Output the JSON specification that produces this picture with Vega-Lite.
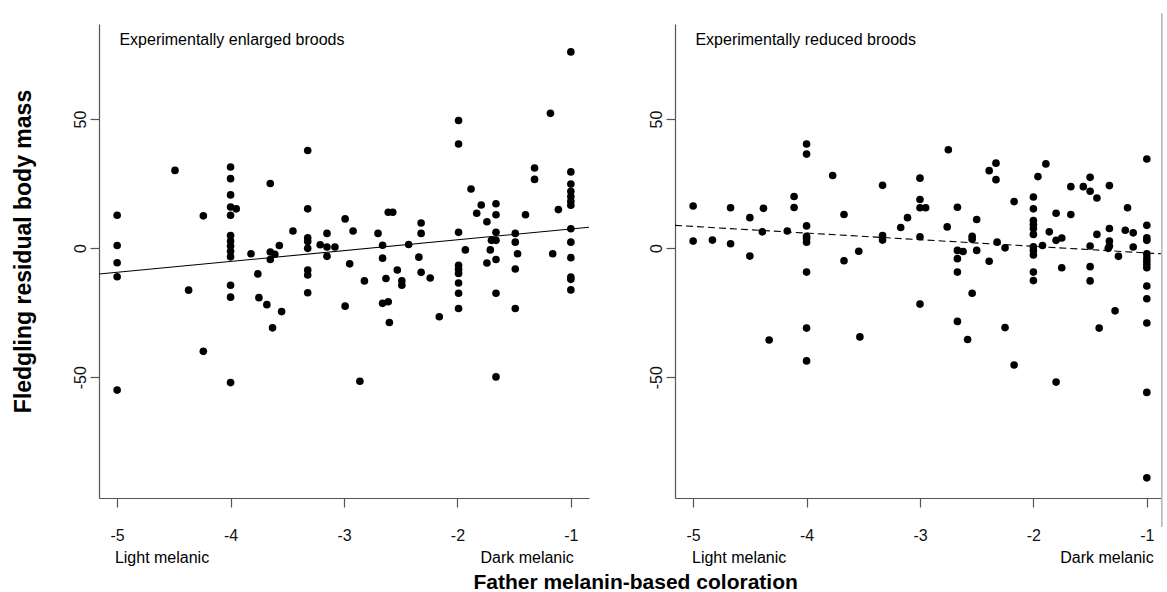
{
  "$schema": "https://vega.github.io/schema/vega-lite/v6.json",
  "background": "white",
  "padding": {"left": 11, "top": 12, "right": 2, "bottom": 2},
  "bounds": "flush",
  "spacing": 86,
  "config": {
    "font": "Liberation Sans",
    "view": {"stroke": null},
    "axis": {
      "grid": false,
      "domainColor": "#555555",
      "tickColor": "#555555",
      "domainWidth": 1.2,
      "tickWidth": 1.2,
      "tickSize": 9,
      "labelFont": "Liberation Sans",
      "labelFontSize": 16,
      "labelColor": "#111111",
      "labelExpr": "datum.value + ''"
    }
  },
  "title": {
    "text": "Father melanin-based coloration",
    "orient": "bottom",
    "anchor": "middle",
    "font": "Liberation Sans",
    "fontSize": 21,
    "fontWeight": "bold",
    "color": "#000000",
    "offset": 6,
    "dx": 48
  },
  "datasets": {
    "enlarged": [
      {"x": -5, "y": 12.7}, {"x": -5, "y": 1.0}, {"x": -5, "y": -5.7}, {"x": -5, "y": -11.1}, {"x": -5, "y": -55.0},
      {"x": -4.49, "y": 30.1}, {"x": -4.24, "y": 12.5}, {"x": -4.37, "y": -16.3}, {"x": -4.24, "y": -40.0},
      {"x": -4, "y": 31.4}, {"x": -4, "y": 26.9}, {"x": -4, "y": 20.6}, {"x": -4, "y": 15.9}, {"x": -3.95, "y": 15.2},
      {"x": -4, "y": 12.7}, {"x": -4, "y": 4.9}, {"x": -4, "y": 2.7}, {"x": -4, "y": 0.8}, {"x": -4, "y": -1.2},
      {"x": -4, "y": -3.4}, {"x": -4, "y": -14.4}, {"x": -4, "y": -19.0}, {"x": -4, "y": -52.1},
      {"x": -3.82, "y": -2.2}, {"x": -3.76, "y": -10.0}, {"x": -3.75, "y": -19.2}, {"x": -3.68, "y": -21.9},
      {"x": -3.65, "y": 25.0}, {"x": -3.65, "y": -1.5}, {"x": -3.61, "y": -2.4}, {"x": -3.65, "y": -4.4},
      {"x": -3.63, "y": -30.9}, {"x": -3.55, "y": -24.6}, {"x": -3.57, "y": 1.0}, {"x": -3.45, "y": 6.6},
      {"x": -3.32, "y": 37.8}, {"x": -3.32, "y": 15.2}, {"x": -3.32, "y": 4.0}, {"x": -3.32, "y": 2.6},
      {"x": -3.32, "y": -0.1}, {"x": -3.32, "y": -8.5}, {"x": -3.32, "y": -10.4}, {"x": -3.32, "y": -17.3},
      {"x": -3.21, "y": 1.3}, {"x": -3.15, "y": 5.7}, {"x": -3.15, "y": 0.4}, {"x": -3.08, "y": 0.4}, {"x": -3.15, "y": -3.2},
      {"x": -2.99, "y": 11.3}, {"x": -2.92, "y": 6.6}, {"x": -2.99, "y": -22.5}, {"x": -2.95, "y": -6.1},
      {"x": -2.82, "y": -12.7}, {"x": -2.86, "y": -51.6}, {"x": -2.70, "y": 5.7}, {"x": -2.66, "y": 1.1},
      {"x": -2.66, "y": -3.9}, {"x": -2.63, "y": -11.8}, {"x": -2.66, "y": -21.4}, {"x": -2.61, "y": -20.8},
      {"x": -2.60, "y": -28.8}, {"x": -2.61, "y": 13.9}, {"x": -2.57, "y": 13.9}, {"x": -2.53, "y": -8.5},
      {"x": -2.49, "y": -12.7}, {"x": -2.49, "y": -14.4}, {"x": -2.43, "y": 1.4}, {"x": -2.32, "y": 9.7},
      {"x": -2.32, "y": 5.7}, {"x": -2.34, "y": -3.5}, {"x": -2.32, "y": -9.4}, {"x": -2.24, "y": -11.6},
      {"x": -2.16, "y": -26.6},
      {"x": -1.99, "y": 49.4}, {"x": -1.99, "y": 40.3}, {"x": -1.99, "y": 6.1}, {"x": -1.99, "y": -6.7},
      {"x": -1.99, "y": -8.2}, {"x": -1.99, "y": -9.8}, {"x": -1.99, "y": -13.5}, {"x": -1.99, "y": -17.5},
      {"x": -1.99, "y": -23.4}, {"x": -1.93, "y": -0.7}, {"x": -1.88, "y": 22.9}, {"x": -1.83, "y": 13.5},
      {"x": -1.79, "y": 16.7}, {"x": -1.74, "y": 10.2}, {"x": -1.74, "y": -5.8}, {"x": -1.70, "y": 3.0},
      {"x": -1.66, "y": 3.0}, {"x": -1.71, "y": -0.7}, {"x": -1.66, "y": 17.2}, {"x": -1.66, "y": 12.9},
      {"x": -1.66, "y": 6.1}, {"x": -1.66, "y": -4.4}, {"x": -1.66, "y": -17.5}, {"x": -1.66, "y": -49.9},
      {"x": -1.49, "y": 5.7}, {"x": -1.49, "y": 2.3}, {"x": -1.47, "y": -2.2}, {"x": -1.49, "y": -8.1},
      {"x": -1.49, "y": -23.4}, {"x": -1.40, "y": 12.9}, {"x": -1.32, "y": 31.0}, {"x": -1.32, "y": 26.6},
      {"x": -1.18, "y": 52.2}, {"x": -1.11, "y": 14.9}, {"x": -1.16, "y": -2.2},
      {"x": -1, "y": 76.0}, {"x": -1, "y": 29.5}, {"x": -1, "y": 24.8}, {"x": -1, "y": 22.0}, {"x": -1, "y": 20.0},
      {"x": -1, "y": 18.1}, {"x": -1, "y": 16.6}, {"x": -1, "y": 7.5}, {"x": -1, "y": 2.3}, {"x": -1, "y": -3.7},
      {"x": -1, "y": -11.2}, {"x": -1, "y": -12.1}, {"x": -1, "y": -16.2}
    ],
    "reduced": [
      {"x": -5, "y": 16.3}, {"x": -5, "y": 2.7}, {"x": -4.83, "y": 3.1}, {"x": -4.67, "y": 15.6}, {"x": -4.67, "y": 1.7},
      {"x": -4.50, "y": 11.8}, {"x": -4.50, "y": -3.1}, {"x": -4.38, "y": 15.4}, {"x": -4.39, "y": 6.3},
      {"x": -4.33, "y": -35.6}, {"x": -4.17, "y": 6.6}, {"x": -4.11, "y": 20.0}, {"x": -4.11, "y": 15.7},
      {"x": -4, "y": 40.3}, {"x": -4, "y": 36.4}, {"x": -4, "y": 8.6}, {"x": -4, "y": 4.6}, {"x": -4, "y": 3.7},
      {"x": -4, "y": 2.3}, {"x": -4, "y": -9.3}, {"x": -4, "y": -31.0}, {"x": -4, "y": -43.7},
      {"x": -3.77, "y": 28.1}, {"x": -3.67, "y": 13.0}, {"x": -3.67, "y": -4.9}, {"x": -3.54, "y": -1.2},
      {"x": -3.53, "y": -34.4}, {"x": -3.33, "y": 24.3}, {"x": -3.33, "y": 4.9}, {"x": -3.33, "y": 3.1},
      {"x": -3.17, "y": 8.0}, {"x": -3.11, "y": 11.8}, {"x": -3.0, "y": 27.1}, {"x": -3.0, "y": 18.8},
      {"x": -3.0, "y": 15.6}, {"x": -2.95, "y": 15.6}, {"x": -3.0, "y": 4.4}, {"x": -3.0, "y": -21.7},
      {"x": -2.75, "y": 38.1}, {"x": -2.76, "y": 8.2}, {"x": -2.67, "y": 15.8}, {"x": -2.67, "y": -0.9},
      {"x": -2.62, "y": -1.3}, {"x": -2.67, "y": -4.1}, {"x": -2.67, "y": -9.3}, {"x": -2.67, "y": -28.4},
      {"x": -2.58, "y": -35.4}, {"x": -2.50, "y": 11.1}, {"x": -2.54, "y": 4.6}, {"x": -2.54, "y": 3.4},
      {"x": -2.50, "y": -0.9}, {"x": -2.54, "y": -17.5}, {"x": -2.39, "y": 30.0}, {"x": -2.33, "y": 32.9},
      {"x": -2.33, "y": 26.5}, {"x": -2.39, "y": -5.1}, {"x": -2.32, "y": 2.3}, {"x": -2.25, "y": 0.1},
      {"x": -2.25, "y": -30.8}, {"x": -2.17, "y": 18.0}, {"x": -2.17, "y": -45.3},
      {"x": -2.0, "y": 19.8}, {"x": -2.0, "y": 15.2}, {"x": -2.0, "y": 10.7}, {"x": -2.0, "y": 9.1},
      {"x": -2.0, "y": 7.6}, {"x": -2.0, "y": 5.3}, {"x": -2.0, "y": 0.5}, {"x": -2.0, "y": -0.9},
      {"x": -2.0, "y": -2.7}, {"x": -2.0, "y": -9.3}, {"x": -2.0, "y": -12.6},
      {"x": -1.96, "y": 27.7}, {"x": -1.89, "y": 32.6}, {"x": -1.92, "y": 1.0}, {"x": -1.86, "y": 6.3},
      {"x": -1.80, "y": 13.5}, {"x": -1.80, "y": 3.0}, {"x": -1.75, "y": 3.9}, {"x": -1.75, "y": -7.6},
      {"x": -1.80, "y": -51.9}, {"x": -1.67, "y": 23.8}, {"x": -1.67, "y": 13.0}, {"x": -1.56, "y": 23.8},
      {"x": -1.50, "y": 27.4}, {"x": -1.50, "y": 22.0}, {"x": -1.44, "y": 19.4}, {"x": -1.44, "y": 5.3},
      {"x": -1.50, "y": 0.8}, {"x": -1.50, "y": -7.2}, {"x": -1.50, "y": -12.7}, {"x": -1.42, "y": -31.0},
      {"x": -1.33, "y": 24.2}, {"x": -1.33, "y": 7.6}, {"x": -1.33, "y": 2.7}, {"x": -1.33, "y": 0.8},
      {"x": -1.34, "y": -0.1}, {"x": -1.25, "y": -3.2}, {"x": -1.28, "y": -24.3}, {"x": -1.17, "y": 15.6},
      {"x": -1.19, "y": 6.9}, {"x": -1.12, "y": 5.9}, {"x": -1.12, "y": 0.4},
      {"x": -1, "y": 34.5}, {"x": -1, "y": 8.8}, {"x": -1, "y": 4.0}, {"x": -1, "y": 3.0}, {"x": -1, "y": -2.2},
      {"x": -1, "y": -3.7}, {"x": -1, "y": -5.0}, {"x": -1, "y": -6.3}, {"x": -1, "y": -7.6}, {"x": -1, "y": -14.7},
      {"x": -1, "y": -19.6}, {"x": -1, "y": -29.0}, {"x": -1, "y": -55.9}, {"x": -1, "y": -89.0}
    ],
    "fitEnlarged": [{"x": -5.16, "y": -10.05}, {"x": -0.84, "y": 8.08}],
    "fitReduced": [{"x": -5.16, "y": 8.8}, {"x": -0.875, "y": -2.2}]
  },
  "hconcat": [
    {
      "width": 490,
      "height": 474,
      "layer": [
        {
          "data": {"name": "enlarged"},
          "mark": {"type": "circle", "size": 58, "color": "#000000", "opacity": 1},
          "encoding": {
            "x": {
              "field": "x", "type": "quantitative",
              "scale": {"domain": [-5.16, -0.84], "nice": false, "zero": false},
              "axis": {"values": [-5, -4, -3, -2, -1], "title": null, "labelPadding": 20, "labelAngle": 0, "labelFlush": false}
            },
            "y": {
              "field": "y", "type": "quantitative",
              "scale": {"domain": [-96.8, 86.8], "nice": false, "zero": false},
              "axis": {
                "values": [-50, 0, 50], "labelAngle": 270, "labelPadding": 2,
                "title": "Fledgling residual body mass",
                "titleFontSize": 23, "titleFontWeight": "bold", "titleColor": "#000000",
                "titleAngle": 270, "titleX": -76, "titleY": 227,
                "titleBaseline": "middle", "titleAlign": "center"
              }
            }
          }
        },
        {
          "data": {"name": "fitEnlarged"},
          "mark": {"type": "line", "color": "#000000", "strokeWidth": 1.1},
          "encoding": {
            "x": {"field": "x", "type": "quantitative"},
            "y": {"field": "y", "type": "quantitative"}
          }
        },
        {
          "data": {"values": [{}]},
          "mark": {"type": "text", "align": "left", "baseline": "alphabetic", "fontSize": 16, "color": "#000000"},
          "encoding": {"x": {"datum": -4.98}, "y": {"datum": 78.7}, "text": {"value": "Experimentally enlarged broods"}}
        },
        {
          "data": {"values": [{}]},
          "mark": {"type": "text", "align": "left", "baseline": "alphabetic", "fontSize": 16, "color": "#000000", "dy": 65},
          "encoding": {"x": {"datum": -5.02}, "y": {"datum": -96.8}, "text": {"value": "Light melanic"}}
        },
        {
          "data": {"values": [{}]},
          "mark": {"type": "text", "align": "right", "baseline": "alphabetic", "fontSize": 16, "color": "#000000", "dy": 65},
          "encoding": {"x": {"datum": -0.974}, "y": {"datum": -96.8}, "text": {"value": "Dark melanic"}}
        }
      ]
    },
    {
      "width": 486,
      "height": 474,
      "layer": [
        {
          "data": {"name": "reduced"},
          "mark": {"type": "circle", "size": 58, "color": "#000000", "opacity": 1},
          "encoding": {
            "x": {
              "field": "x", "type": "quantitative",
              "scale": {"domain": [-5.16, -0.875], "nice": false, "zero": false},
              "axis": {"values": [-5, -4, -3, -2, -1], "title": null, "labelPadding": 20, "labelAngle": 0, "labelFlush": false}
            },
            "y": {
              "field": "y", "type": "quantitative",
              "scale": {"domain": [-96.8, 86.8], "nice": false, "zero": false},
              "axis": {"values": [-50, 0, 50], "labelAngle": 270, "labelPadding": 2, "title": null}
            }
          }
        },
        {
          "data": {"name": "fitReduced"},
          "mark": {"type": "line", "color": "#000000", "strokeWidth": 1.1, "strokeDash": [7, 4]},
          "encoding": {
            "x": {"field": "x", "type": "quantitative"},
            "y": {"field": "y", "type": "quantitative"}
          }
        },
        {
          "data": {"values": [{}]},
          "mark": {"type": "text", "align": "left", "baseline": "alphabetic", "fontSize": 16, "color": "#000000"},
          "encoding": {"x": {"datum": -4.98}, "y": {"datum": 78.7}, "text": {"value": "Experimentally reduced broods"}}
        },
        {
          "data": {"values": [{}]},
          "mark": {"type": "text", "align": "left", "baseline": "alphabetic", "fontSize": 16, "color": "#000000", "dy": 65},
          "encoding": {"x": {"datum": -5.01}, "y": {"datum": -96.8}, "text": {"value": "Light melanic"}}
        },
        {
          "data": {"values": [{}]},
          "mark": {"type": "text", "align": "right", "baseline": "alphabetic", "fontSize": 16, "color": "#000000", "dy": 65},
          "encoding": {"x": {"datum": -0.94}, "y": {"datum": -96.8}, "text": {"value": "Dark melanic"}}
        },
        {
          "data": {"values": [{}]},
          "mark": {"type": "rule", "color": "#b4b4b4", "strokeWidth": 1.5},
          "encoding": {"x": {"datum": -0.868}, "y": {"datum": 91.0}, "y2": {"datum": -108.0}}
        }
      ]
    }
  ]
}
